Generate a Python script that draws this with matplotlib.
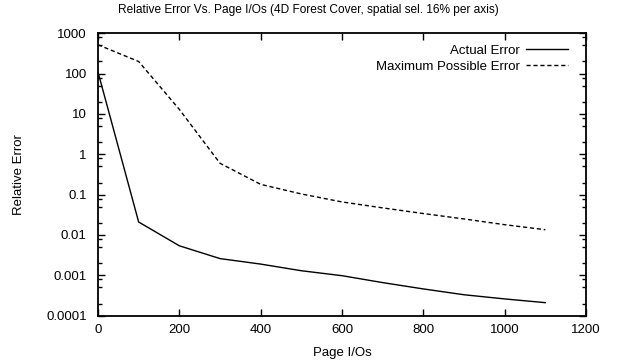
import matplotlib
matplotlib.use('Agg')
import matplotlib.pyplot as plt
from matplotlib.ticker import LogLocator, NullFormatter

plt.rcParams['font.family'] = ['Liberation Sans', 'DejaVu Sans']
plt.rcParams['font.size'] = 9

# data
page_ios = [0, 100, 200, 300, 400, 500, 600, 700, 800, 900, 1000, 1100]
actual_err = [110, 0.021, 0.0054, 0.0026, 0.0019, 0.0013, 0.00098,
              0.00066, 0.00046, 0.00033, 0.00026, 0.00021]
max_err = [520, 200, 13, 0.6, 0.18, 0.104, 0.066, 0.047, 0.034, 0.025,
           0.018, 0.0135]

x_ticks = [0, 200, 400, 600, 800, 1000, 1200]
y_ticks = [0.0001, 0.001, 0.01, 0.1, 1, 10, 100, 1000]
y_labels = ['0.0001', '0.001', '0.01', '0.1', '1', '10', '100', '1000']

fig = plt.figure(figsize=(6.17, 3.62), dpi=100)
ax = fig.add_axes([0.1588, 0.128, 0.791, 0.78])

ax.plot(page_ios, actual_err, color='black', lw=1.0, label='Actual Error')
ax.plot(page_ios, max_err, color='black', lw=1.0, dashes=(3, 2),
        label='Maximum Possible Error')

ax.set_yscale('log')
ax.set_xlim(0, 1200)
ax.set_ylim(0.0001, 1000)
ax.set_xticks(x_ticks)
ax.set_xticklabels([str(t) for t in x_ticks])
ax.set_yticks(y_ticks)
ax.set_yticklabels(y_labels)
ax.yaxis.set_minor_locator(LogLocator(base=10, subs=(2, 5, 8), numticks=20))
ax.yaxis.set_minor_formatter(NullFormatter())

ax.tick_params(which='major', direction='in', length=5, width=1,
               top=True, right=True, labelsize=9.5, colors='black')
ax.tick_params(axis='x', which='major', pad=6)
ax.tick_params(axis='y', which='major', pad=8)
ax.tick_params(which='minor', direction='in', length=3, width=1,
               left=True, right=True)
for s in ax.spines.values():
    s.set_linewidth(1.3)

fig.text(0.5, 0.972, 'Relative Error Vs. Page I/Os (4D Forest Cover, spatial sel. 16% per axis)',
         ha='center', va='center', fontsize=8.6)
ax.set_xlabel('Page I/Os', fontsize=9.5, labelpad=8)
ax.set_ylabel('Relative Error', fontsize=9.5, labelpad=15)

ax.legend(loc='upper right', bbox_to_anchor=(0.963, 0.961), frameon=False,
          markerfirst=False, handlelength=3.2, handletextpad=0.45,
          fontsize=9.5, borderaxespad=0, borderpad=0, labelspacing=0.3)

fig.savefig('out.png', dpi=100)
